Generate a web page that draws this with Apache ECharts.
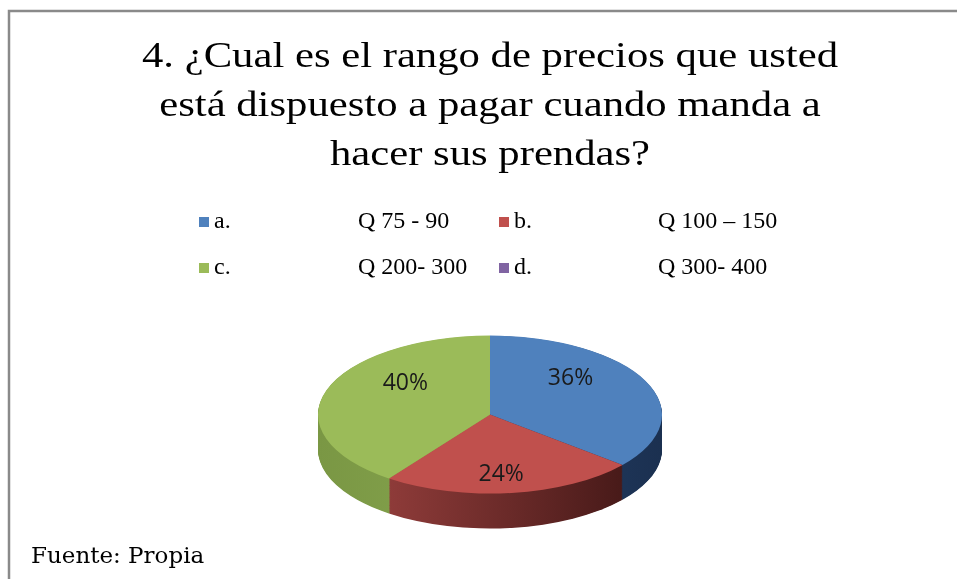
<!DOCTYPE html>
<html>
<head>
<meta charset="utf-8">
<script src="https://cdn.jsdelivr.net/npm/echarts@6/dist/echarts.min.js"></script>
<style>
  html, body { margin: 0; padding: 0; background: #ffffff; }
  #wrap { position: relative; width: 957px; height: 579px; overflow: hidden; background: #ffffff; }
  #pie { position: absolute; left: 310px; width: 360px; height: 440px; transform-origin: 0 0; z-index: 1; }
  #main { position: absolute; left: 0; top: 0; width: 957px; height: 579px; z-index: 2; }
</style>
</head>
<body>
<div id="wrap">
  <div id="pie"></div>
  <div id="main"></div>
</div>
<script>
// ---- data ----
const categories = ['a.', 'b.', 'c.', 'd.'];
const ranges = ['Q 75 - 90', 'Q 100 \u2013 150', 'Q 200- 300', 'Q 300- 400'];
const values = [36, 24, 40, 0];
const titleLines = [
  '4. \u00bfCual es el rango de precios que usted',
  'est\u00e1 dispuesto a pagar cuando manda a',
  'hacer sus prendas?'
];
const sourceText = 'Fuente: Propia';

// ---- styles ----
const topColors = ['#4f81bd', '#c0504d', '#9bbb59', '#8064a2'];
const sideColors = [
  ['#24406a', '#1b3050'],
  ['#8e3b39', '#481a19'],
  ['#7a9744', '#86a54e'],
  ['#6a5388', '#4e3d66']
];

// geometry of the tilted pie
const CX = 490, CY = 415;         // centre of the top face on the page
const R = 172;                    // horizontal radius
const RY = 79;                    // vertical radius of the top face
const S = RY / R;                 // vertical squash
const DEPTH = 35;                 // visible thickness on the page
const PRE_CY = 182;               // centre inside the (unsquashed) pie box
const PIE_LEFT = 310;

const pieDiv = document.getElementById('pie');
pieDiv.style.top = (CY - PRE_CY * S) + 'px';
pieDiv.style.transform = 'scaleY(' + S + ')';

function sideGradient(c) {
  return { type: 'linear', x: 0, y: 0, x2: 1, y2: 0,
    colorStops: [{ offset: 0, color: c[0] }, { offset: 1, color: c[1] }] };
}

function layer(offset, colorFn) {
  return {
    type: 'pie',
    silent: true,
    animation: false,
    radius: R,
    center: [CX - PIE_LEFT, PRE_CY + offset],
    startAngle: 90,
    clockwise: true,
    label: { show: false },
    labelLine: { show: false },
    emphasis: { disabled: true },
    itemStyle: { borderWidth: 0 },
    data: categories.map((name, i) => ({
      name: name,
      value: values[i],
      itemStyle: { color: colorFn(i) }
    }))
  };
}

const depthPre = Math.round(DEPTH / S);
const pieSeries = [];
for (let k = depthPre; k >= 1; k -= 1.5) {
  pieSeries.push(layer(k, i => sideGradient(sideColors[i])));
}
pieSeries.push(layer(0, i => topColors[i]));

const pieChart = echarts.init(pieDiv, null, { renderer: 'svg' });
pieChart.setOption({ animation: false, series: pieSeries });

// ---- main chart: title, legend, labels, source ----
const main = echarts.init(document.getElementById('main'));
main.setOption({
  animation: false,
  backgroundColor: 'transparent',
  legend: {
    left: 199,
    top: 204,
    width: 600,
    padding: 0,
    orient: 'horizontal',
    icon: 'rect',
    itemWidth: 10,
    itemHeight: 10,
    itemGap: 10,
    selectedMode: false,
    itemStyle: { opacity: 1, borderWidth: 0 },
    data: categories.map((name, i) => ({ name: name, itemStyle: { color: topColors[i], opacity: 1 } })),
    formatter: function (name) {
      const i = categories.indexOf(name);
      return '{l|' + name + '}{r|' + ranges[i] + '}';
    },
    textStyle: {
      fontFamily: 'Liberation Serif',
      fontSize: 24,
      color: '#000000',
      lineHeight: 36,
      rich: {
        l: { width: 144, fontFamily: 'Liberation Serif', fontSize: 24, color: '#000000', lineHeight: 36 },
        r: { width: 131, fontFamily: 'Liberation Serif', fontSize: 24, color: '#000000', lineHeight: 36 }
      }
    }
  },
  series: [{
    type: 'pie',
    silent: true,
    animation: false,
    radius: R,
    center: [CX, CY],
    startAngle: 90,
    clockwise: true,
    itemStyle: { opacity: 0 },
    emphasis: { disabled: true },
    labelLine: { show: false },
    label: {
      show: true,
      position: 'inside',
      opacity: 1,
      color: '#1a1a1a',
      fontFamily: 'Open Sans',
      fontSize: 23,
      formatter: function (p) { return p.value > 0 ? Math.round(p.percent) + '%' : ''; }
    },
    labelLayout: function (p) {
      const lx = p.labelRect.x + p.labelRect.width / 2;
      const ly = p.labelRect.y + p.labelRect.height / 2;
      const dy = ly - CY;
      return { x: lx, y: CY + dy * S + Math.sign(dy) * 19, align: 'center', verticalAlign: 'middle' };
    },
    data: categories.map((name, i) => ({ name: name, value: values[i], itemStyle: { color: topColors[i] } }))
  }],
  graphic: [
    {
      type: 'polyline',
      silent: true,
      shape: { points: [[9, 579], [9, 11], [957, 11]] },
      style: { stroke: '#8a8a8a', lineWidth: 2.5, fill: null }
    }
  ].concat(titleLines.map((t, i) => ({
    type: 'text',
    silent: true,
    x: 490,
    y: 58 + i * 49,
    scaleX: 1.22,
    style: {
      text: t,
      fontFamily: 'Liberation Serif',
      fontSize: 35,
      fill: '#000000',
      align: 'center',
      verticalAlign: 'middle'
    }
  }))).concat([{
    type: 'text',
    silent: true,
    x: 31,
    y: 557,
    style: {
      text: sourceText,
      fontFamily: 'DejaVu Serif',
      fontSize: 23,
      fill: '#000000',
      align: 'left',
      verticalAlign: 'middle'
    }
  }])
});
</script>
</body>
</html>
